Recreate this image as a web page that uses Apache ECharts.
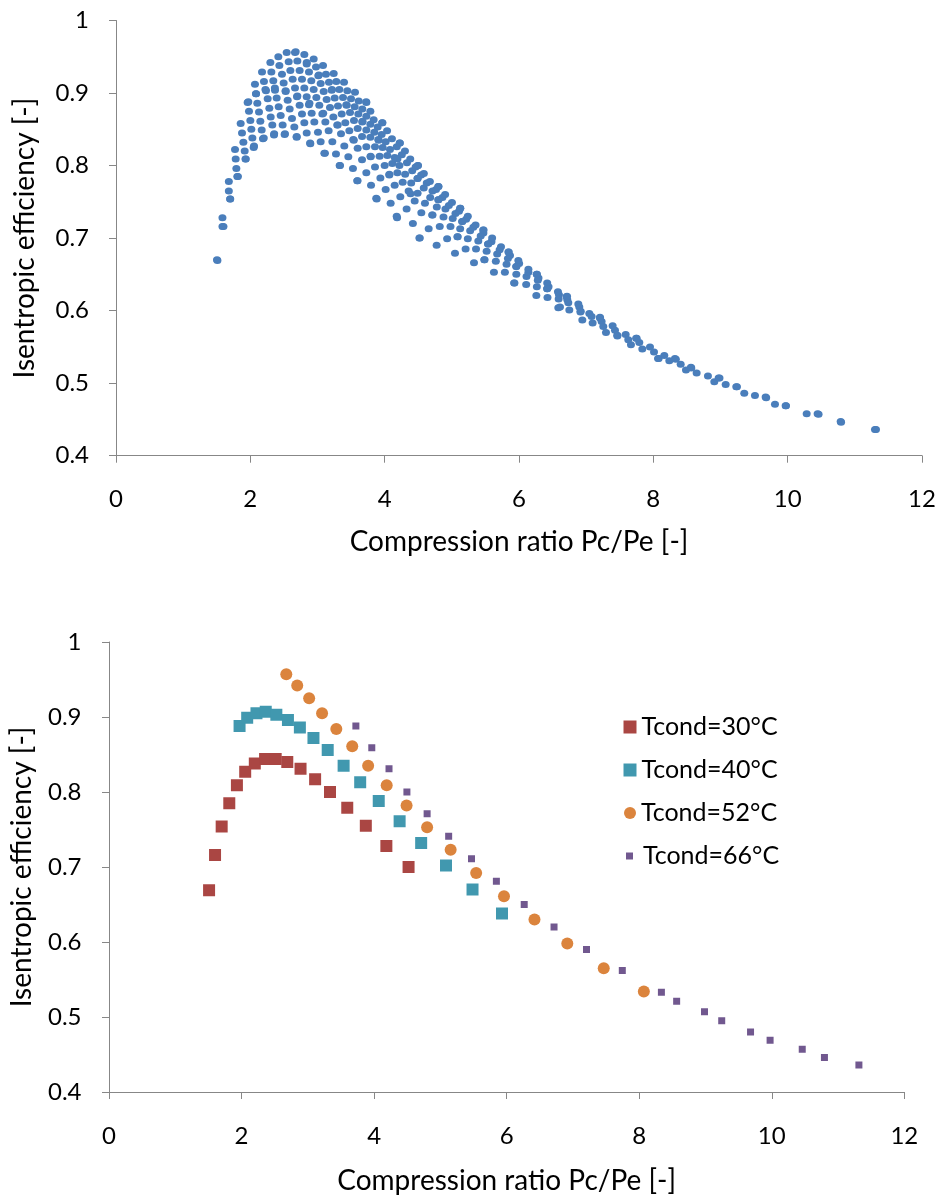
<!DOCTYPE html>
<html><head><meta charset="utf-8">
<script src="https://cdn.jsdelivr.net/npm/echarts@6/dist/echarts.min.js"></script>
<style>html,body{margin:0;padding:0;background:#fff}#c{width:941px;height:1196px}</style>
</head><body><div id="c"></div>
<script>
// ---- tick labels ----
const xTickLabels = ['0','2','4','6','8','10','12'];
const yTickLabels = ['0.4','0.5','0.6','0.7','0.8','0.9','1'];

// ---- bottom chart series (Tcond curves) ----
const t30x = [1.51,1.60,1.70,1.815,1.93,2.055,2.20,2.355,2.515,2.69,2.89,3.11,3.335,3.595,3.875,4.185,4.52];
const t30y = [0.669,0.716,0.754,0.785,0.809,0.827,0.838,0.844,0.844,0.840,0.831,0.817,0.800,0.779,0.755,0.728,0.700];
const t40x = [1.97,2.085,2.225,2.365,2.525,2.70,2.88,3.085,3.30,3.54,3.79,4.07,4.385,4.71,5.085,5.485,5.93];
const t40y = [0.888,0.899,0.905,0.907,0.903,0.896,0.886,0.872,0.856,0.835,0.813,0.788,0.761,0.732,0.702,0.670,0.638];
const t52x = [2.675,2.84,3.02,3.215,3.43,3.67,3.91,4.19,4.49,4.80,5.155,5.54,5.96,6.42,6.915,7.465,8.07];
const t52y = [0.957,0.942,0.925,0.905,0.884,0.861,0.835,0.809,0.782,0.753,0.723,0.692,0.661,0.630,0.598,0.565,0.534];
const t66x = [3.725,3.965,4.225,4.495,4.80,5.125,5.47,5.845,6.265,6.715,7.205,7.745,8.335,8.565,8.985,9.245,9.68,9.975,10.46,10.795,11.315];
const t66y = [0.888,0.859,0.831,0.800,0.771,0.741,0.711,0.681,0.650,0.620,0.590,0.562,0.533,0.521,0.507,0.495,0.480,0.469,0.457,0.446,0.436];

// ---- top chart: all operating points, read column by column ----
const topColsA = [
 [1.504,0.670],
 [1.585,0.728],[1.585,0.716],
 [1.68,0.778],[1.68,0.765],[1.70,0.754],
 [1.772,0.822],[1.782,0.809],[1.792,0.796],[1.806,0.785],
 [1.856,0.858],[1.876,0.845],[1.896,0.832],[1.916,0.820],[1.930,0.809],
 [1.960,0.887],[1.980,0.875],[2.000,0.862],[2.015,0.850],[2.030,0.838],[2.050,0.825],
 [2.069,0.912],[2.084,0.899],[2.104,0.886],[2.129,0.874],[2.149,0.861],[2.169,0.849],[2.188,0.837],
 [2.174,0.929],[2.203,0.916],[2.233,0.903],[2.258,0.892],[2.283,0.879],[2.303,0.867],[2.327,0.856],[2.352,0.842],
 [2.298,0.942],[2.313,0.929],[2.342,0.917],[2.367,0.904],[2.392,0.893],[2.422,0.881],[2.452,0.869],[2.481,0.856],[2.511,0.843]
];
const topColsB = [
 [2.417,0.950],[2.432,0.938],[2.471,0.926],[2.496,0.914],[2.526,0.902],[2.556,0.890],[2.586,0.878],[2.620,0.865],[2.655,0.853],[2.690,0.839],
 [2.541,0.956],[2.571,0.943],[2.596,0.931],[2.630,0.919],[2.665,0.907],[2.695,0.895],[2.734,0.883],[2.769,0.871],[2.804,0.859],[2.839,0.845],[2.893,0.830],
 [2.665,0.956],[2.700,0.944],[2.734,0.931],[2.769,0.919],[2.804,0.907],[2.839,0.895],[2.873,0.884],[2.913,0.872],[2.953,0.860],[3.007,0.846],[3.047,0.833],[3.102,0.817],
 [2.804,0.953],[2.839,0.940],[2.873,0.929],[2.908,0.917],[2.943,0.905],[2.983,0.894],[3.027,0.883],[3.072,0.871],[3.117,0.860],[3.166,0.848],[3.221,0.833],[3.275,0.816],[3.330,0.800],
 [2.943,0.947],[2.978,0.936],[3.012,0.924],[3.047,0.913],[3.092,0.902],[3.136,0.891],[3.186,0.880],[3.236,0.867],[3.295,0.856],[3.350,0.844],[3.399,0.827],[3.459,0.812],[3.528,0.796],[3.593,0.779]
];
const topColsC = [
 [3.082,0.938],[3.126,0.926],[3.171,0.915],[3.211,0.904],[3.256,0.893],[3.305,0.882],[3.360,0.871],[3.414,0.859],[3.474,0.848],[3.533,0.836],[3.598,0.824],[3.663,0.808],[3.727,0.790],[3.797,0.773],[3.881,0.754],
 [3.241,0.927],[3.280,0.916],[3.325,0.905],[3.380,0.894],[3.434,0.883],[3.484,0.873],[3.543,0.862],[3.598,0.851],[3.663,0.840],[3.727,0.826],[3.792,0.812],[3.856,0.798],[3.936,0.783],[4.015,0.767],[4.089,0.748],[4.179,0.730],
 [3.395,0.915],[3.444,0.903],[3.499,0.892],[3.553,0.881],[3.608,0.871],[3.667,0.860],[3.727,0.849],[3.787,0.839],[3.856,0.826],[3.925,0.813],[4.000,0.800],[4.069,0.787],[4.149,0.773],[4.233,0.757],[4.327,0.740],[4.42,0.720],[4.52,0.700]
];
const topColsD = [
 [3.558,0.901],[3.613,0.889],[3.667,0.878],[3.727,0.868],[3.787,0.857],[3.846,0.846],[3.906,0.836],[3.970,0.825],[4.040,0.814],[4.114,0.803],[4.189,0.790],[4.268,0.777],[4.357,0.765],[4.447,0.751],[4.546,0.735],[4.655,0.713],[4.774,0.690],
 [3.727,0.887],[3.787,0.875],[3.836,0.863],[3.896,0.853],[3.955,0.843],[4.015,0.833],[4.079,0.822],[4.149,0.811],[4.220,0.800],[4.305,0.788],[4.395,0.776],[4.490,0.762],[4.600,0.748],[4.710,0.732],[4.820,0.716],[4.930,0.699],[5.047,0.679],
 [3.965,0.859],[4.036,0.848],[4.108,0.837],[4.180,0.826],[4.255,0.815],[4.332,0.804],[4.410,0.793],[4.490,0.782],[4.582,0.769],[4.678,0.756],[4.776,0.743],[4.876,0.729],[4.980,0.716],[5.085,0.702],[5.205,0.685],[5.330,0.666],
 [4.225,0.831],[4.302,0.820],[4.381,0.809],[4.461,0.798],[4.543,0.787],[4.627,0.776],[4.712,0.765],[4.800,0.753],[4.905,0.740],[5.013,0.727],[5.124,0.713],[5.238,0.699],[5.360,0.685],[5.485,0.670],[5.627,0.653]
];
const topColsE = [
 [4.495,0.800],[4.583,0.789],[4.673,0.778],[4.765,0.767],[4.860,0.756],[4.956,0.745],[5.054,0.734],[5.155,0.723],[5.273,0.710],[5.394,0.696],[5.518,0.682],[5.655,0.668],[5.790,0.653],[5.930,0.638],
 [4.800,0.771],[4.900,0.760],[5.002,0.749],[5.107,0.737],[5.213,0.726],[5.320,0.715],[5.430,0.703],[5.540,0.692],[5.675,0.678],[5.815,0.664],[5.960,0.650],[6.107,0.636],[6.258,0.621],
 [5.125,0.741],[5.238,0.730],[5.353,0.718],[5.470,0.707],[5.590,0.695],[5.712,0.684],[5.835,0.672],[5.960,0.661],[6.112,0.647],[6.266,0.633],[6.424,0.618],[6.585,0.604],
 [5.470,0.711],[5.600,0.700],[5.732,0.688],[5.866,0.676],[6.002,0.665],[6.140,0.653],[6.280,0.642],[6.420,0.630],[6.590,0.616],
 [5.845,0.681],[5.990,0.669],[6.140,0.657],[6.290,0.645],[6.440,0.633],[6.595,0.622],
 [6.265,0.650],[6.420,0.638],[6.580,0.626]
];
const topTail = [
 [6.709,0.619],[6.719,0.615],[6.734,0.611],[6.610,0.605],[6.749,0.601],[6.883,0.609],[6.898,0.605],[6.918,0.599],[6.943,0.587],
 [7.047,0.596],[7.081,0.592],[7.096,0.583],[7.206,0.591],[7.230,0.585],[7.255,0.578],[7.295,0.570],[7.394,0.579],[7.429,0.573],[7.464,0.566],
 [7.588,0.567],[7.627,0.560],[7.667,0.553],[7.751,0.562],[7.791,0.556],[7.836,0.547],[7.950,0.550],[8.010,0.543],[8.079,0.534],
 [8.163,0.538],[8.238,0.531],[8.322,0.534],[8.407,0.526],[8.486,0.518],[8.560,0.522],[8.645,0.514],[8.813,0.510],[8.908,0.502],[8.972,0.507],
 [9.077,0.498],[9.235,0.495],[9.354,0.486],[9.513,0.483],[9.672,0.481],[9.811,0.471],[9.970,0.469],[10.283,0.458],[10.446,0.458],[10.789,0.447],[11.300,0.436]
];

const zip = (xs, ys) => xs.map((x, i) => [x, ys[i]]);
const topData = [].concat(topColsA, topColsB, topColsC, topColsD, topColsE, topTail,
  zip(t30x,t30y), zip(t40x,t40y), zip(t52x,t52y), zip(t66x,t66y));

const FONT = 'Lato';
const axisGray = '#878787';

function xAx(grid, gap) {
  return {
    gridIndex: grid, type: 'value', min: 0, max: 12, interval: 2,
    axisLine: {show: true, onZero: false, lineStyle: {color: axisGray, width: 1}},
    axisTick: {show: true, length: 7, lineStyle: {color: axisGray}},
    splitLine: {show: false},
    axisLabel: {fontSize: 24, color: '#000', margin: 32, fontFamily: FONT,
      formatter: (v) => xTickLabels[Math.round(v / 2)]},
    name: 'Compression ratio Pc/Pe [-]', nameLocation: 'middle', nameGap: gap,
    nameTextStyle: {fontSize: 28, color: '#000', fontFamily: FONT}
  };
}
function yAx(grid, gap, margin) {
  return {
    gridIndex: grid, type: 'value', min: 0.4, max: 1, interval: 0.1,
    axisLine: {show: true, onZero: false, lineStyle: {color: axisGray, width: 1}},
    axisTick: {show: true, length: 7, lineStyle: {color: axisGray}},
    splitLine: {show: false},
    axisLabel: {fontSize: 24, color: '#000', margin: margin, fontFamily: FONT,
      formatter: (v) => yTickLabels[Math.round((v - 0.4) * 10)]},
    name: 'Isentropic efficiency [-]', nameLocation: 'middle', nameGap: gap,
    nameTextStyle: {fontSize: 28, color: '#000', fontFamily: FONT}
  };
}

function legendAt(name, left, top, w, h, padLeft) {
  return {
    data: [name], left: left, top: top, orient: 'vertical', padding: 0,
    itemWidth: w, itemHeight: h, selectedMode: false,
    textStyle: {fontSize: 25, color: '#000', fontFamily: FONT, lineHeight: 30, padding: [0,0,0,padLeft]}
  };
}

const chart = echarts.init(document.getElementById('c'), null, {renderer: 'canvas'});
chart.setOption({
  animation: false,
  backgroundColor: '#fff',
  textStyle: {fontFamily: FONT},
  grid: [
    {left: 116, top: 20.5, width: 806, height: 435.2},
    {left: 104.3, top: 642, width: 800, height: 452.3}
  ],
  xAxis: [xAx(0, 72), xAx(1, 75)],
  yAxis: [yAx(0, 77, 27), yAx(1, 73, 27.5)],
  legend: [
    legendAt('Tcond=30°C', 623.5, 712, 13, 13, 0),
    legendAt('Tcond=40°C', 623.5, 755, 13, 13, 0),
    legendAt('Tcond=52°C', 624, 798, 12, 12, 0),
    legendAt('Tcond=66°C', 626, 841, 7, 7, 5)
  ],
  series: [
    {type: 'scatter', xAxisIndex: 0, yAxisIndex: 0, symbol: 'circle', symbolSize: [8, 7],
     itemStyle: {color: '#4A7EBB', opacity: 1}, data: topData},
    {name: 'Tcond=30°C', type: 'scatter', xAxisIndex: 1, yAxisIndex: 1, symbol: 'rect', symbolSize: 12,
     itemStyle: {color: '#AA4643', opacity: 1}, data: zip(t30x, t30y)},
    {name: 'Tcond=40°C', type: 'scatter', xAxisIndex: 1, yAxisIndex: 1, symbol: 'rect', symbolSize: 12,
     itemStyle: {color: '#4198AF', opacity: 1}, data: zip(t40x, t40y)},
    {name: 'Tcond=52°C', type: 'scatter', xAxisIndex: 1, yAxisIndex: 1, symbol: 'circle', symbolSize: 12,
     itemStyle: {color: '#DB843D', opacity: 1}, data: zip(t52x, t52y)},
    {name: 'Tcond=66°C', type: 'scatter', xAxisIndex: 1, yAxisIndex: 1, symbol: 'rect', symbolSize: 7,
     itemStyle: {color: '#71588F', opacity: 1}, data: zip(t66x, t66y)}
  ]
});
</script></body></html>
